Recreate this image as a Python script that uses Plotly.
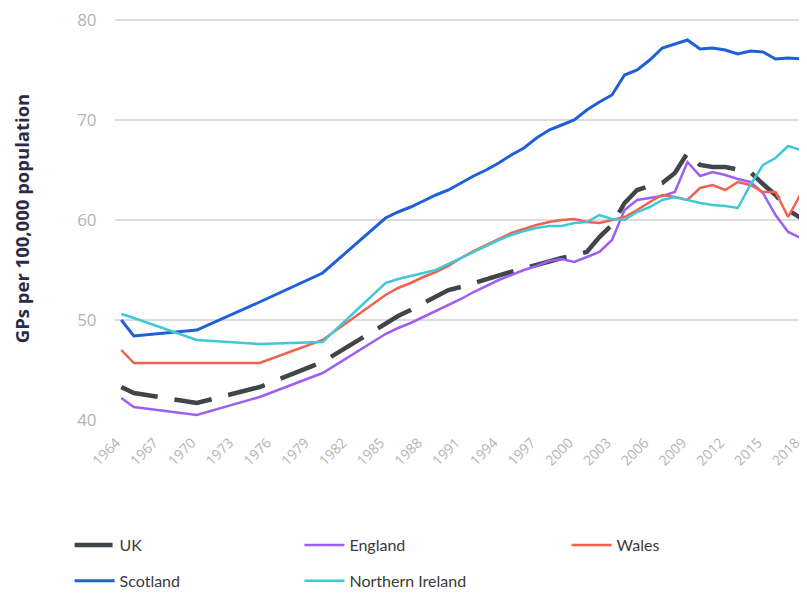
import plotly.graph_objects as go

years = [1964, 1965, 1970, 1975, 1980] + list(range(1985, 2019))

uk = [43.3, 42.7, 41.7, 43.3, 45.8,
      49.7, 50.4, 51.0, 51.7, 52.4, 53.0, 53.3, 53.7, 54.1, 54.5,
      54.9, 55.2, 55.5, 55.9, 56.2, 56.5, 56.8, 58.3, 59.5, 61.7,
      63.0, 63.4, 63.7, 64.7, 66.7, 65.5, 65.3, 65.3, 65.0, 64.8,
      63.6, 62.5, 61.0, 60.2]
england = [42.2, 41.3, 40.5, 42.3, 44.7,
           48.6, 49.2, 49.7, 50.3, 50.9, 51.5, 52.1, 52.8, 53.4, 54.0,
           54.5, 55.0, 55.4, 55.9, 56.1, 55.8, 56.3, 56.8, 58.0, 61.0,
           62.0, 62.2, 62.4, 62.8, 65.8, 64.4, 64.8, 64.5, 64.1, 63.8,
           62.7, 60.5, 58.8, 58.2]
wales = [47.0, 45.7, 45.7, 45.7, 48.0,
         52.5, 53.2, 53.7, 54.3, 54.8, 55.4, 56.2, 56.9, 57.5, 58.1,
         58.7, 59.1, 59.5, 59.8, 60.0, 60.1, 59.8, 59.7, 60.0, 60.3,
         61.0, 61.8, 62.5, 62.3, 62.0, 63.2, 63.5, 63.0, 63.8, 63.5,
         62.8, 62.8, 60.3, 62.6]
scotland = [50.0, 48.4, 49.0, 51.8, 54.7,
            60.2, 60.8, 61.3, 61.9, 62.5, 63.0, 63.7, 64.4, 65.0, 65.7,
            66.5, 67.2, 68.2, 69.0, 69.5, 70.0, 71.0, 71.8, 72.5, 74.5,
            75.0, 76.0, 77.2, 77.6, 78.0, 77.1, 77.2, 77.0, 76.6, 76.9,
            76.8, 76.1, 76.2, 76.1]
ni = [50.6, 50.2, 48.0, 47.6, 47.8,
      53.7, 54.1, 54.4, 54.7, 55.0, 55.6, 56.2, 56.8, 57.4, 58.0,
      58.5, 58.9, 59.2, 59.4, 59.4, 59.7, 59.8, 60.5, 60.1, 60.0,
      60.8, 61.3, 62.0, 62.3, 62.0, 61.7, 61.5, 61.4, 61.2, 63.5,
      65.5, 66.2, 67.4, 67.0]

tick_years = list(range(1964, 2019, 3))
y_ticks = [40, 50, 60, 70, 80]

# name, values, colour, width, dash, legend box
series = [
    ("UK", uk, "#3f4549", 4.5, "38px,17px", "legend"),
    ("England", england, "#9c5ff0", 2.5, "solid", "legend2"),
    ("Wales", wales, "#f2604e", 2.5, "solid", "legend3"),
    ("Scotland", scotland, "#1f5fd8", 3, "solid", "legend"),
    ("Northern Ireland", ni, "#3fc8d6", 2.5, "solid", "legend2"),
]

fig = go.Figure()
for name, vals, color, width, dash, leg in series:
    fig.add_trace(go.Scatter(x=years, y=vals, mode="lines", name=name,
                             legend=leg, legendgroup=name,
                             line=dict(color=color, width=width, dash=dash)))

leg_common = dict(orientation="v", yanchor="top", y=-0.268, xanchor="left",
                  font=dict(size=16, color="#3a3a3a", family="Lato"),
                  itemwidth=40, tracegroupgap=12, bgcolor="rgba(0,0,0,0)")

fig.update_layout(
    width=799, height=585,
    margin=dict(l=107, r=0, t=9, b=173, autoexpand=False),
    paper_bgcolor="white", plot_bgcolor="white",
    font=dict(family="Lato, sans-serif"),
    showlegend=True,
    legend=dict(x=-0.0656, **leg_common),
    legend2=dict(x=0.2665, **leg_common),
    legend3=dict(x=0.6526, **leg_common),
    xaxis=dict(range=[1963.5, 2018.5], tickvals=tick_years,
               ticktext=[str(t) for t in tick_years], tickangle=-45,
               showgrid=False, zeroline=False, showline=False, automargin=False,
               ticklabeloverflow="allow", ticklabelshift=-5,
               ticks="outside", ticklen=8, tickcolor="rgba(0,0,0,0)",
               tickfont=dict(size=14, color="#b3b3b3", family="Open Sans")),
    yaxis=dict(range=[40, 80.3], tickvals=y_ticks, showgrid=True, automargin=False,
               ticklabeloverflow="allow",
               gridcolor="#dcdcdc", gridwidth=1.5, zeroline=False,
               tickfont=dict(size=17, color="#b3b3b3", family="Open Sans"),
               ticks="outside", ticklen=14, tickcolor="rgba(0,0,0,0)",
               title=dict(text="<b>GPs per 100,000 population</b>",
                          font=dict(size=18.5, color="#2b2a45", family="Open Sans"),
                          standoff=42)),
)

fig.write_html("out.html")
